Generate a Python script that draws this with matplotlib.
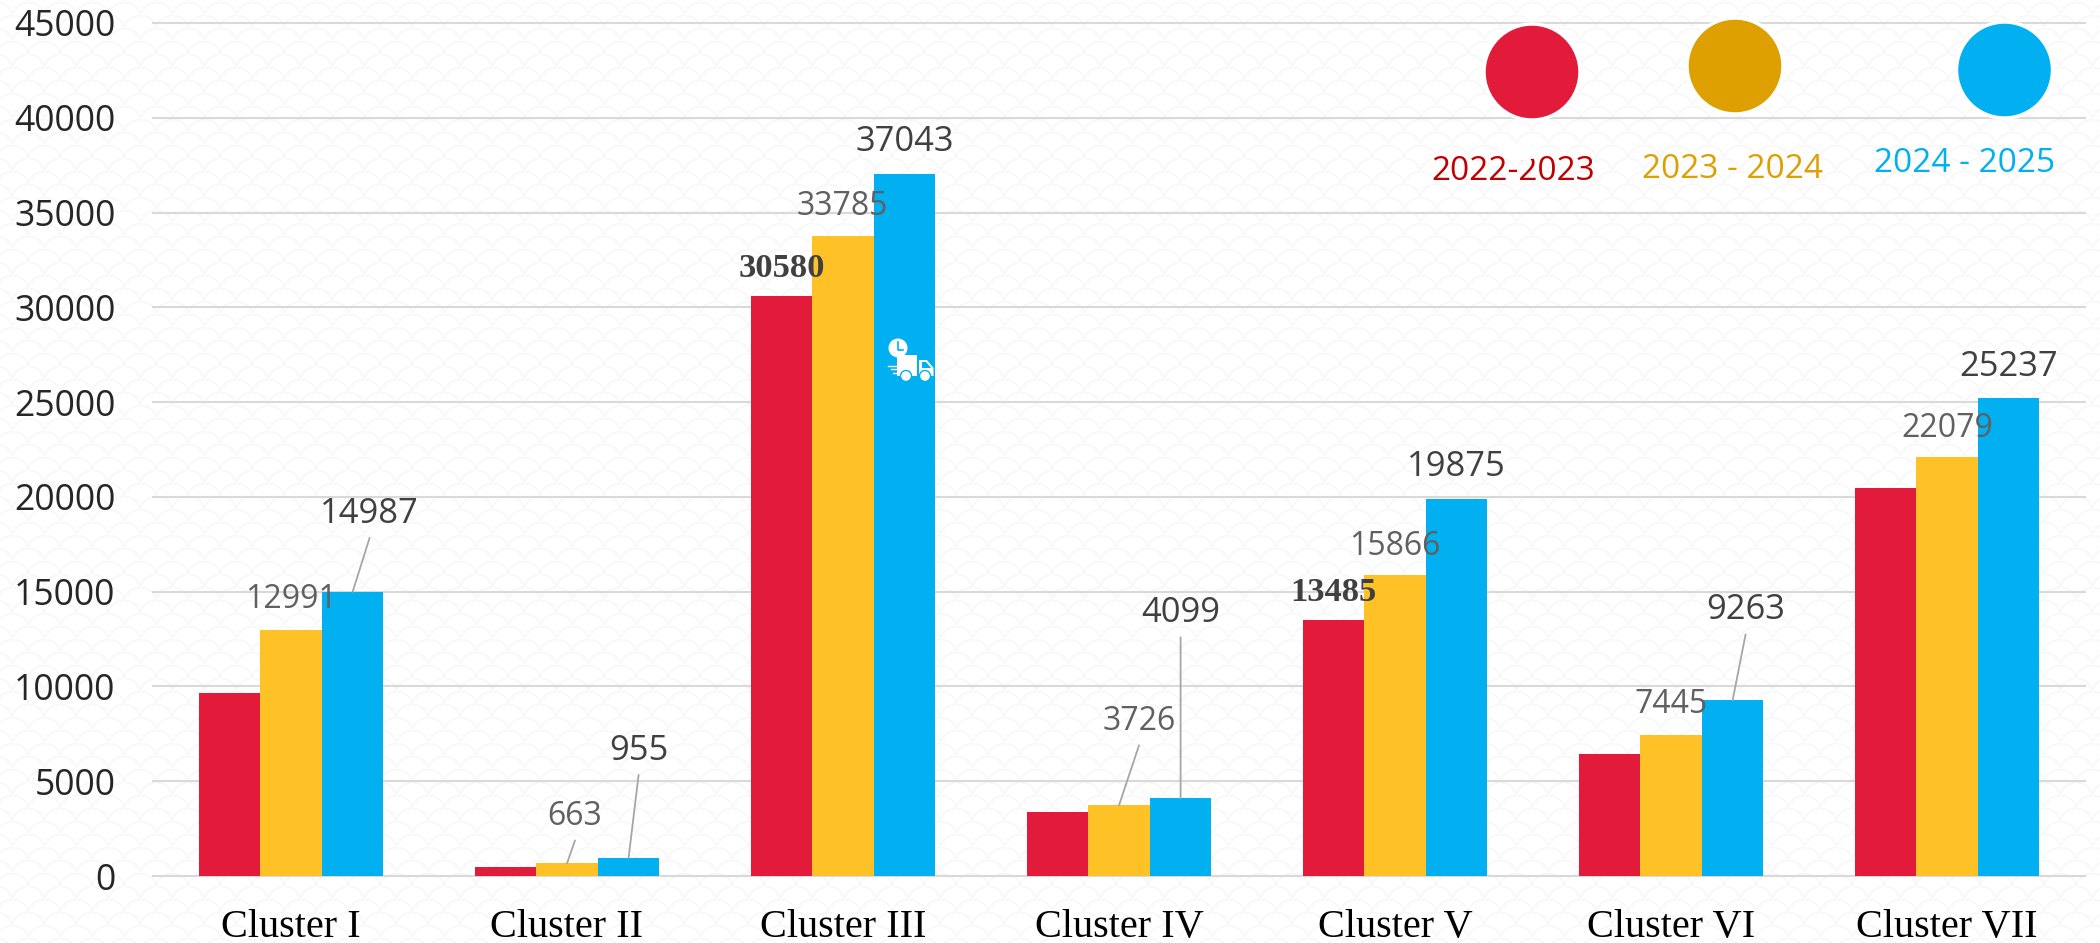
"""Cluster bar chart, 2022-2025."""
import numpy as np
import matplotlib
matplotlib.use("Agg")
import matplotlib.pyplot as plt
from matplotlib.patches import Ellipse, Circle, Rectangle, Polygon

clusters = ["Cluster I", "Cluster II", "Cluster III", "Cluster IV", "Cluster V", "Cluster VI", "Cluster VII"]
values_2223 = [9660, 490, 30580, 3390, 13485, 6430, 20450]
values_2324 = [12991, 663, 33785, 3726, 15866, 7445, 22079]
values_2425 = [14987, 955, 37043, 4099, 19875, 9263, 25237]
y_ticks = [0, 5000, 10000, 15000, 20000, 25000, 30000, 35000, 40000, 45000]
legend_labels = ["2022-2023", "2023 - 2024", "2024 - 2025"]

RED = "#E31B3B"
YELLOW = "#FFC226"
BLUE = "#00B0F0"
SANS = "Open Sans"
SERIF = "Liberation Serif"

# label offsets from the top centre of each bar, in pixels
offsets_2324 = [(0, 33), (8, 50), (-1, 32), (20, 87), (0, 32), (0, 33), (0, 32)]
offsets_2425 = [(17, 81), (10, 110), (0, 35), (0, 188), (0, 35), (13, 93), (0, 34)]
leaders_2324 = [1, 3]
leaders_2425 = [0, 1, 3, 5]
red_labelled = [2, 4]

W, H = 2100, 943
fig = plt.figure(figsize=(W / 100, H / 100), dpi=100, facecolor="white")


def scale_pattern():
    """Faint fish-scale tiling behind the chart."""
    yy, xx = np.mgrid[0:H, 0:W]
    img = np.zeros((H, W))
    r = 17
    for k, cy in enumerate(range(-20, H + 20, 13)):
        shift = 16 if k % 2 else 0
        for cx in range(-20 + shift, W + 20, 32):
            x0, x1 = max(cx - r - 1, 0), min(cx + r + 2, W)
            y0, y1 = max(cy - r - 1, 0), min(cy + r + 2, H)
            if x0 >= x1 or y0 >= y1:
                continue
            d = np.hypot(xx[y0:y1, x0:x1] - cx, yy[y0:y1, x0:x1] - cy)
            sub = img[y0:y1, x0:x1]
            sub[d < r] = 0
            sub[np.abs(d - r) < 0.9] = 1
    return 1 - img * 0.03


fig.figimage(scale_pattern(), cmap="gray", vmin=0, vmax=1, origin="upper", zorder=-5)

ax = fig.add_axes([153 / W, (H - 876) / H, 1932 / W, 853 / H])
ax.patch.set_alpha(0)
x = np.arange(len(clusters))
bw = 61.6 / 276

ax.bar(x - bw, values_2223, bw, color=RED, zorder=3)
ax.bar(x, values_2324, bw, color=YELLOW, zorder=3)
ax.bar(x + bw, values_2425, bw, color=BLUE, zorder=3)

ax.set_xlim(-0.5, 6.5)
ax.set_ylim(0, 45000)
ax.set_yticks(y_ticks)
ax.set_xticks(x)
ax.set_xticklabels(clusters, family=SERIF, fontsize=29, color="black")
ax.tick_params(axis="both", length=0)
ax.tick_params(axis="x", pad=24)
ax.tick_params(axis="y", pad=27)
for lab in ax.get_yticklabels():
    lab.set_family(SANS)
    lab.set_fontsize(25.6)
    lab.set_color("#262626")
    lab.set_y(lab.get_position()[1])
ax.grid(axis="y", color="#D9D9D9", linewidth=1.5, clip_on=False, zorder=1)
ax.set_axisbelow(True)
for s in ax.spines.values():
    s.set_visible(False)


def put_label(xpos, val, off, leader, **kw):
    ax.annotate(str(val), xy=(xpos, val), xytext=(off[0], off[1] - 3), textcoords="offset pixels",
                ha="center", va="center", zorder=6, annotation_clip=False, **kw)
    if leader:
        ax.annotate("", xy=(xpos, val), xytext=(off[0], off[1] - 27), textcoords="offset pixels",
                    arrowprops=dict(arrowstyle="-", color="#A6A6A6", lw=1.3, shrinkA=0, shrinkB=0),
                    zorder=5)


for i in red_labelled:
    put_label(x[i] - bw, values_2223[i], (0, 31), False, family=SERIF, weight="bold",
              fontsize=24.8, color="#404040")
for i, val in enumerate(values_2324):
    put_label(x[i], val, offsets_2324[i], i in leaders_2324, family=SANS, fontsize=23, color="#606060")
for i, val in enumerate(values_2425):
    put_label(x[i] + bw, val, offsets_2425[i], i in leaders_2425, family=SANS, fontsize=24.8,
              weight="medium", color="#404040")

# overlay in reference pixel coordinates for the legend and the truck icon
ov = fig.add_axes([0, 0, 1, 1], zorder=10)
ov.set_xlim(0, W)
ov.set_ylim(H, 0)
ov.axis("off")

dot_colors = [RED, "#DDA000", BLUE]
dot_pos = [(1532, 72), (1735, 66), (2004.5, 70)]
text_colors = ["#C00000", "#DDA000", BLUE]
text_pos = [(1513, 172), (1733, 169), (1965, 164)]
for lab, dc, dp, tc, tp in zip(legend_labels, dot_colors, dot_pos, text_colors, text_pos):
    ov.add_patch(Circle(dp, 48, facecolor=dc, edgecolor="white", lw=2.5))
    ov.text(tp[0], tp[1], lab, color=tc, family=SANS, fontsize=24, ha="center", va="center")
ov.add_patch(Ellipse((1522, 152), 40, 16, facecolor="white", edgecolor="none", zorder=8))

# truck icon
ov.add_patch(Circle((898, 348), 9.5, facecolor="white", edgecolor="none"))
ov.plot([898, 898, 903], [342, 350, 350], color=BLUE, lw=1.2)
ov.add_patch(Rectangle((897, 355), 20, 21, facecolor="white", edgecolor="none"))
ov.add_patch(Polygon([(919, 360), (927, 360), (933.5, 368), (933.5, 376), (919, 376)],
                     facecolor="white", edgecolor="none"))
ov.add_patch(Polygon([(922, 362), (926, 362), (931, 368), (922, 368)], facecolor=BLUE, edgecolor="none"))
for wx in (906, 925):
    ov.add_patch(Circle((wx, 376), 5.5, facecolor="white", edgecolor=BLUE, lw=1))
for sy, x0 in zip((366, 369, 373), (888, 891, 893)):
    ov.plot([x0, 896], [sy, sy], color="white", lw=1)

fig.savefig("out.png", dpi=100)
